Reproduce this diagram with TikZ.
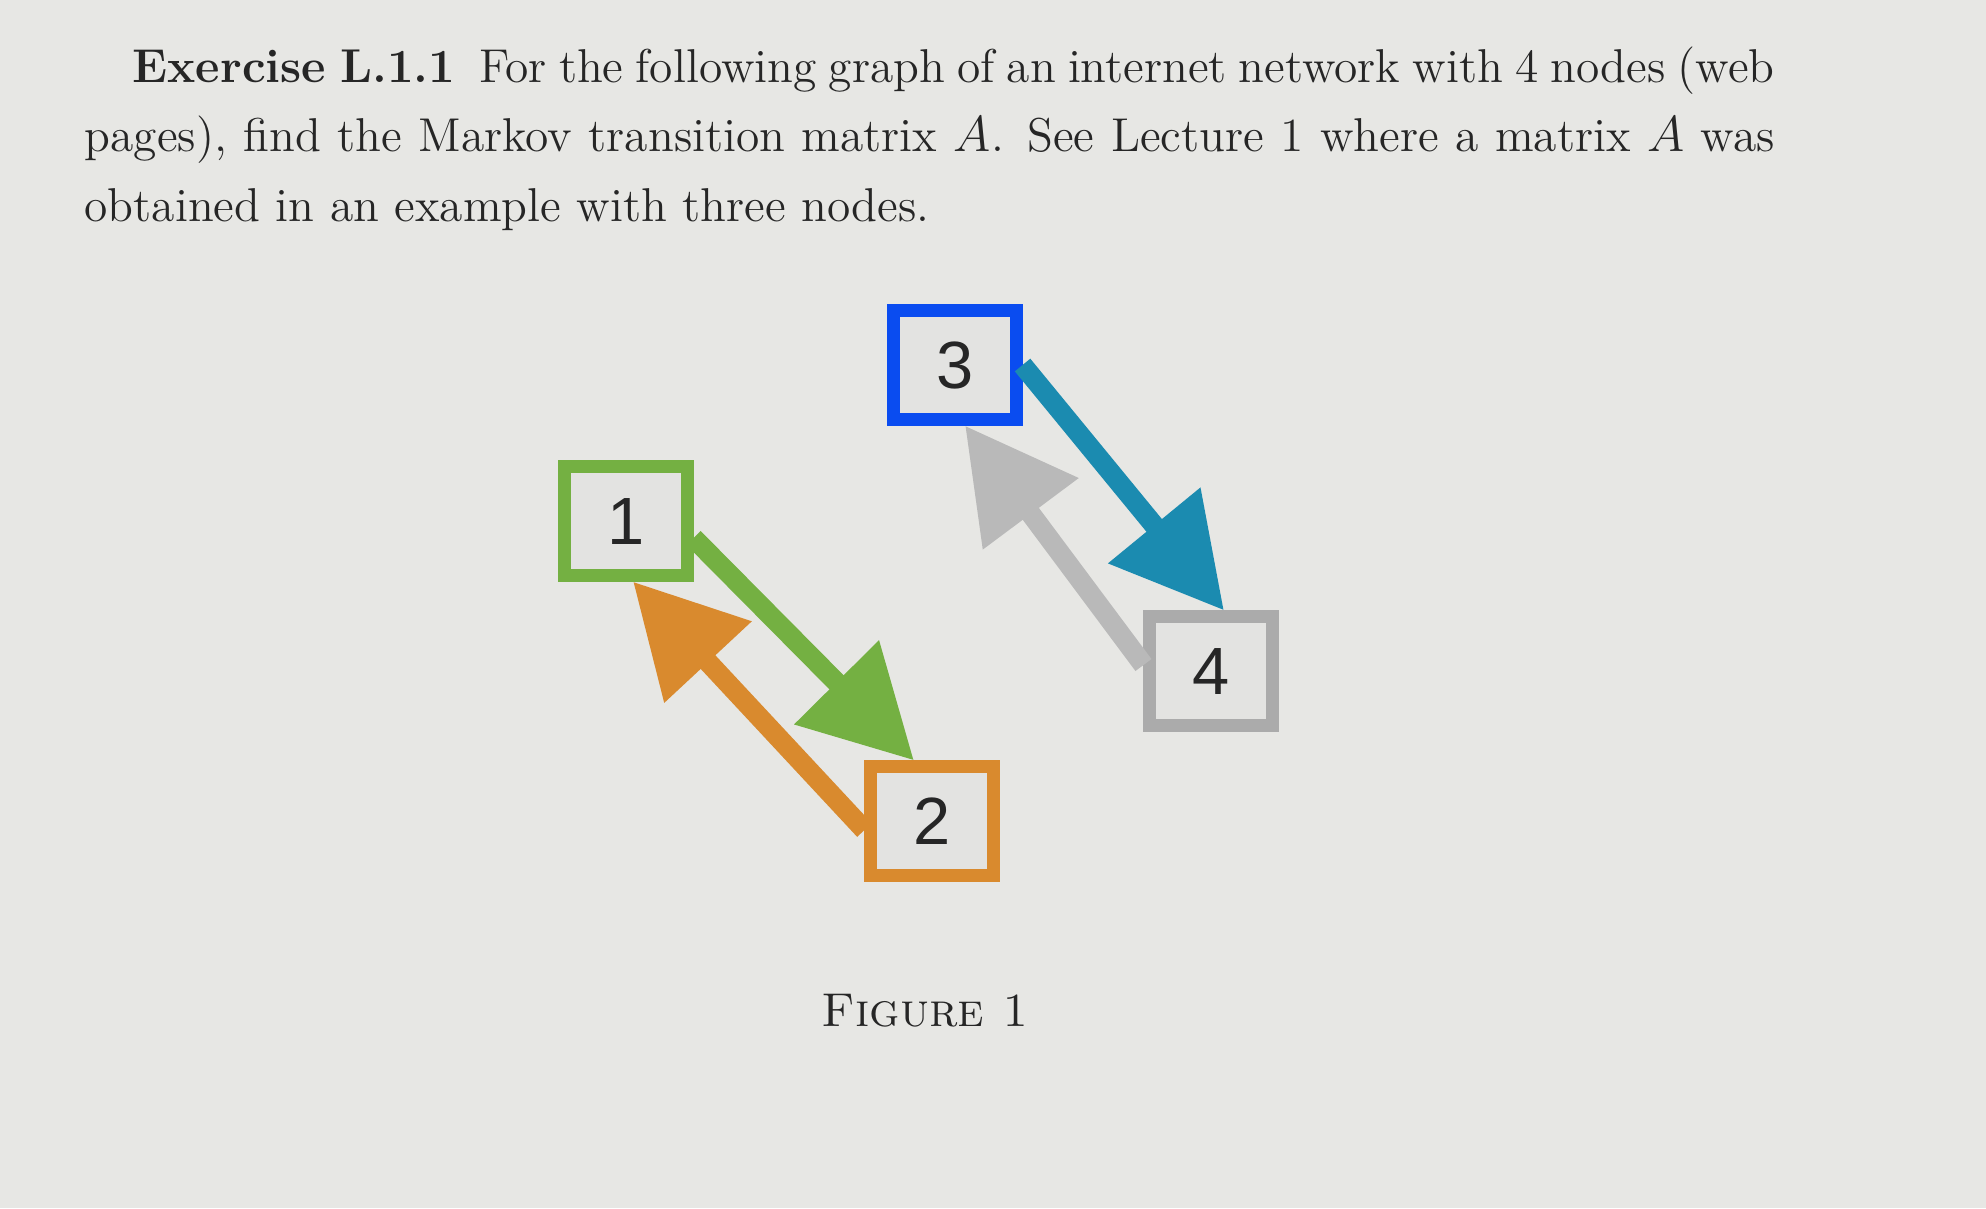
\documentclass[tikz,border=0pt]{standalone}
\usepackage{amsmath}
\usepackage{fontspec}
\newfontfamily\pagenum{Liberation Sans}
\usetikzlibrary{arrows.meta}
\definecolor{pgbg}{HTML}{E7E7E4}
\definecolor{pgink}{HTML}{262626}
\definecolor{boxfill}{HTML}{E3E3E1}
\definecolor{wgreen}{HTML}{74B042}
\definecolor{worange}{HTML}{D98A2E}
\definecolor{wblue}{HTML}{0A4CF0}
\definecolor{wteal}{HTML}{1B8BB0}
\definecolor{wgray}{HTML}{ABABAB}
\definecolor{wgraylink}{HTML}{B9B9B9}

\begin{document}
\begin{tikzpicture}[x=0.01cm, y=-0.01cm,
  page/.style={fill=boxfill, line width=0.13cm, minimum width=1.22cm,
               minimum height=1.08cm, inner sep=0pt,
               font=\pagenum\fontsize{19}{22}\selectfont, text=pgink},
  link/.style={line width=0.2cm, -{Triangle[length=1.1cm, width=1.14cm]}}]
  \fill[pgbg] (0,0) rectangle (1986,1208);
  \useasboundingbox (0,0) rectangle (1986,1208);
  % exercise text
  \node[anchor=north west, inner sep=0pt, text width=16.89cm, align=justify,
        font=\fontsize{13.5}{19.8}\selectfont, text=pgink] (exercise) at (84,46)
    {\hspace*{0.48cm}\textbf{Exercise L.1.1}\enspace For the following graph of an internet network with 4 nodes (web\linebreak
     pages), find the Markov transition matrix $A$. See Lecture 1 where a matrix $A$ was\linebreak
     obtained in an example with three nodes.};
  % web pages
  \foreach \n/\pos/\c/\t in {n1/{626,521}/wgreen/1, n2/{932,821}/worange/2,
                             n3/{955,365}/wblue/3, n4/{1211,671}/wgray/4}
    \node[page, draw=\c] (\n) at (\pos) {\t};
  % links
  \draw[link, worange] ([yshift=-0.09cm]n2.west) -- ([xshift=0.07cm]n1.south);
  \draw[link, wgreen] ([yshift=-0.17cm]n1.east) -- ([xshift=-0.18cm]n2.north);
  \draw[link, wgraylink] ([yshift=0.06cm]n4.west) -- ([xshift=0.1cm]n3.south);
  \draw[link, wteal] (n3.east) -- ([xshift=0.13cm]n4.north);
  \node[font=\fontsize{13.5}{19.8}\selectfont, text=pgink, anchor=base] (caption) at (925,1026)
    {\textsc{Figure 1}};
\end{tikzpicture}
\end{document}
